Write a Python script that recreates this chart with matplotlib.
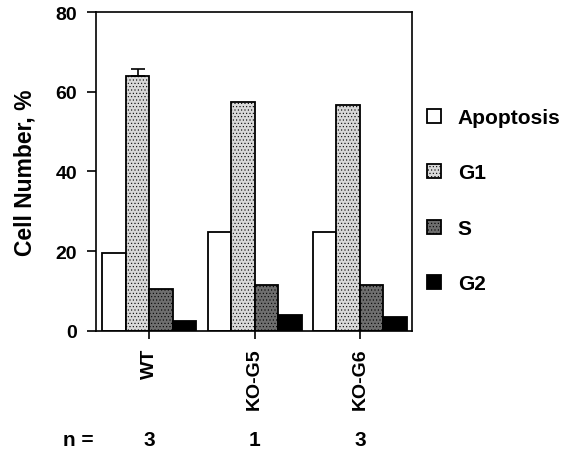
# Cell cycle distribution bar chart (WT vs KO clones)

import numpy as np
import matplotlib
matplotlib.use('Agg')
import matplotlib.pyplot as plt
import matplotlib.transforms as mtransforms

plt.rcParams['font.family'] = ['Liberation Sans', 'DejaVu Sans']
plt.rcParams['font.weight'] = 'bold'
plt.rcParams['hatch.linewidth'] = 0.4

# Data
groups = ['WT', 'KO-G5', 'KO-G6']
n_counts = ['3', '1', '3']
phases = ['Apoptosis', 'G1', 'S', 'G2']
apoptosis = [19.5, 24.8, 24.8]
g1 = [64.0, 57.3, 56.6]
s_phase = [10.5, 11.5, 11.5]
g2 = [2.5, 3.9, 3.5]
wt_g1_err = 1.6

series = [apoptosis, g1, s_phase, g2]
faces = ['white', '#d8d8d8', '#6e6e6e', 'black']
hatches = [None, '.....', '.....', None]

fig = plt.figure(figsize=(5.73, 4.77), dpi=100)
ax = fig.add_axes([0.1675, 0.3046, 0.5515, 0.6681])

x = np.arange(len(groups))
width = 0.223
offsets = (np.arange(4) - 1.5) * width
for vals, off, fc, h, lab in zip(series, offsets, faces, hatches, phases):
    ax.bar(x + off, vals, width, color=fc, edgecolor='black',
           linewidth=1.3, hatch=h, label=lab, zorder=2)

# upper-only error bar on WT G1
ax.errorbar(x[0] + offsets[1], g1[0], yerr=[[0], [wt_g1_err]], fmt='none',
            ecolor='black', elinewidth=1.2, capsize=5, capthick=1.2, zorder=3)

ax.set_xlim(-0.506, 2.494)
ax.set_ylim(0, 80)
ax.set_yticks([0, 20, 40, 60, 80])
ax.set_xticks(x)
ax.set_xticklabels(groups, rotation=90, fontsize=14, fontweight='bold')
ax.tick_params(axis='y', direction='out', length=6.5, width=1.2, labelsize=14, pad=7)
ax.tick_params(axis='x', direction='out', length=6, width=1.2, pad=6)
for sp in ax.spines.values():
    sp.set_linewidth(1.2)
ax.set_ylabel('Cell Number, %', fontsize=16.5, fontweight='bold', labelpad=14)

# legend on the right
ax.legend(loc='upper left', bbox_to_anchor=(0.7315, 0.789),
          bbox_transform=fig.transFigure, frameon=False, fontsize=15,
          handlelength=0.65, handleheight=0.65, labelspacing=1.75,
          handletextpad=0.8, borderaxespad=0)

# n = row under the chart
trans = mtransforms.blended_transform_factory(ax.transData, fig.transFigure)
fig.text(63 / 573, 1 - 441 / 477, 'n =', fontsize=15, fontweight='bold',
         ha='left', va='center')
for xi, n in zip(x, n_counts):
    ax.text(xi, 1 - 441 / 477, n, transform=trans, fontsize=15,
            fontweight='bold', ha='center', va='center')

fig.savefig('out.png', dpi=100)
